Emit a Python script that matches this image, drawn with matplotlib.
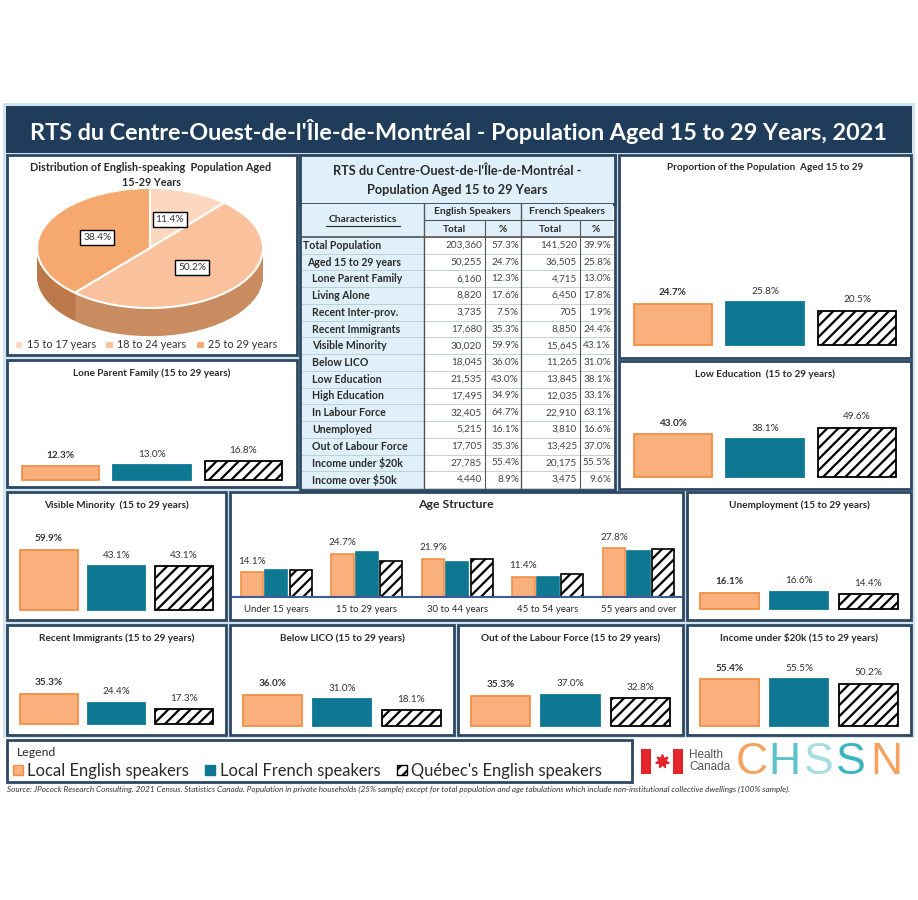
import numpy as np
import matplotlib.pyplot as plt
from matplotlib.patches import Rectangle

plt.rcParams['font.family'] = ['Lato', 'DejaVu Sans']
plt.rcParams['hatch.linewidth'] = 1.6

# ---- data ----
series = ['Local English speakers', 'Local French speakers', "Québec's English speakers"]

pie_labels = ['15 to 17 years', '18 to 24 years', '25 to 29 years']
pie_values = [11.4, 50.2, 38.4]

proportion = [24.7, 25.8, 20.5]
lone_parent = [12.3, 13.0, 16.8]
low_education = [43.0, 38.1, 49.6]
visible_minority = [59.9, 43.1, 43.1]
unemployment = [16.1, 16.6, 14.4]
recent_immigrants = [35.3, 24.4, 17.3]
below_lico = [36.0, 31.0, 18.1]
out_of_labour = [35.3, 37.0, 32.8]
income_under_20k = [55.4, 55.5, 50.2]

age_groups = ['Under 15 years', '15 to 29 years', '30 to 44 years', '45 to 54 years', '55 years and over']
age_english = [14.1, 24.7, 21.9, 11.4, 27.8]
age_french = [15.4, 25.8, 20.1, 11.6, 26.2]
age_quebec = [15.5, 20.5, 21.9, 13.3, 27.6]

table_rows = ['Total Population', 'Aged 15 to 29 years', 'Lone Parent Family', 'Living Alone',
              'Recent Inter-prov.', 'Recent Immigrants', 'Visible Minority', 'Below LICO',
              'Low Education', 'High Education', 'In Labour Force', 'Unemployed',
              'Out of Labour Force', 'Income under $20k', 'Income over $50k']
eng_total = [203360, 50255, 6160, 8820, 3735, 17680, 30020, 18045, 21535, 17495, 32405, 5215, 17705, 27785, 4440]
eng_pct = [57.3, 24.7, 12.3, 17.6, 7.5, 35.3, 59.9, 36.0, 43.0, 34.9, 64.7, 16.1, 35.3, 55.4, 8.9]
fr_total = [141520, 36505, 4715, 6450, 705, 8850, 15645, 11265, 13845, 12035, 22910, 3810, 13425, 20175, 3475]
fr_pct = [39.9, 25.8, 13.0, 17.8, 1.9, 24.4, 43.1, 31.0, 38.1, 33.1, 63.1, 16.6, 37.0, 55.5, 9.6]

# ---- style ----
ORANGE = '#f9b07d'
ORANGE_EDGE = '#ef8f45'
TEAL = '#0e7893'
NAVY = '#1f3d5a'
BORDER = '#2c4862'
LIGHT = '#d4e4ee'
CELL = '#e0f0fa'
TXT = '#2a2a2a'

W, H = 918, 900
fig = plt.figure(figsize=(9.18, 9.0), dpi=100)
bg = fig.add_axes([0, 0, 1, 1])
bg.set_xlim(0, W)
bg.set_ylim(H, 0)
bg.axis('off')


def px_axes(x0, y0, x1, y1):
    ax = fig.add_axes([x0 / W, 1 - y1 / H, (x1 - x0) / W, (y1 - y0) / H])
    ax.set_facecolor('none')
    return ax


def panel(x0, y0, x1, y1, face='white'):
    bg.add_patch(Rectangle((x0, y0), x1 - x0, y1 - y0, facecolor=face,
                           edgecolor=BORDER, linewidth=2))


def bar_panel(box, title, values, base_y, scale):
    x0, y0, x1, y1 = box
    panel(*box)
    bg.text((x0 + x1) / 2, y0 + 13, title, ha='center', va='center',
            fontsize=7.2, fontweight='bold', color=TXT)
    top = y0 + 24
    ax = px_axes(x0 + 8, top, x1 - 8, base_y)
    ax.set_xlim(-0.5, 2.5)
    ax.set_ylim(0, (base_y - top) / scale)
    ax.axis('off')
    bars = ax.bar(range(3), values, width=0.85, color=[ORANGE, TEAL, 'white'],
                  edgecolor=[ORANGE_EDGE, TEAL, 'black'], linewidth=1.3, clip_on=False)
    bars[2].set_hatch('///')
    for i, (b, v) in enumerate(zip(bars, values)):
        ax.annotate(f'{v:.1f}%', (b.get_x() + b.get_width() / 2, v), xytext=(0, 8),
                    textcoords='offset points', ha='center', va='center', fontsize=7.2,
                    fontweight='bold' if i == 0 else 'normal', color='#333333')


# background frame + banner
bg.add_patch(Rectangle((3, 103), 912, 635, facecolor=LIGHT, edgecolor='none'))
bg.add_patch(Rectangle((6, 106), 906, 47, facecolor=NAVY, edgecolor='none'))
bg.text(459, 131, "RTS du Centre-Ouest-de-l'Île-de-Montréal - Population Aged 15 to 29 Years, 2021",
        ha='center', va='center', fontsize=16.8, fontweight='bold', color='white')

# ---- pie panel ----
panel(7, 155, 297, 355)
bg.text(151, 175, 'Distribution of English-speaking  Population Aged\n15-29 Years',
        ha='center', va='center', fontsize=7.8, fontweight='bold', color=TXT, linespacing=1.45)
pie_colors = ['#fcd8c0', '#f9c29d', '#f6a96f']
side_colors = ['#dcae8e', '#c98b60', '#bd7849']
pax = px_axes(30, 180, 270, 340)
for d in np.linspace(0.47, 0.02, 24):
    pax.pie(pie_values, colors=side_colors, startangle=90, counterclock=False,
            center=(0, -d), wedgeprops=dict(linewidth=0))
wedges, _, autotexts = pax.pie(pie_values, colors=pie_colors, startangle=90, counterclock=False,
                               autopct='%1.1f%%', pctdistance=0.5,
                               wedgeprops=dict(edgecolor='white', linewidth=1.5),
                               textprops=dict(fontsize=7.3, color='#333333'))
for t in autotexts:
    t.set_bbox(dict(facecolor='white', edgecolor='black', boxstyle='square,pad=0.3', linewidth=1))
pax.set_aspect('auto')
pax.set_xlim(-1.062, 1.062)
pax.set_ylim(-1.533, 1.133)
pax.legend(wedges, pie_labels, loc='center', bbox_to_anchor=(146, 345), bbox_transform=bg.transData,
           ncol=3, frameon=False, fontsize=7.8, handlelength=0.8, handleheight=0.8,
           handletextpad=0.3, columnspacing=0.9, borderpad=0, labelcolor='#333333')

# ---- table ----
panel(300, 155, 615, 490)
bg.add_patch(Rectangle((300, 155), 315, 49, facecolor=CELL, edgecolor=BORDER, linewidth=2))
bg.text(457, 171, "RTS du Centre-Ouest-de-l'Île-de-Montréal -", ha='center', va='center',
        fontsize=9.2, fontweight='bold', color=TXT)
bg.text(457, 190, 'Population Aged 15 to 29 Years', ha='center', va='center',
        fontsize=9.2, fontweight='bold', color=TXT)
top_h, row_h = 237, (488 - 237) / len(table_rows)
bg.add_patch(Rectangle((302, 204), 311, 33, facecolor=CELL, edgecolor='none'))
bg.add_patch(Rectangle((302, 237), 122, 251, facecolor=CELL, edgecolor='none'))
bg.text(363, 219, 'Characteristics', ha='center', va='center', fontsize=7.4, fontweight='bold', color=TXT)
bg.plot([326, 400], [226, 226], color=TXT, lw=0.8)
bg.text(472, 212, 'English Speakers', ha='center', va='center', fontsize=7.4, fontweight='bold', color=TXT)
bg.text(567, 212, 'French Speakers', ha='center', va='center', fontsize=7.4, fontweight='bold', color=TXT)
for cx, lab in zip([454, 503, 550, 596], ['Total', '%', 'Total', '%']):
    bg.text(cx, 229, lab, ha='center', va='center', fontsize=7.2, fontweight='bold', color=TXT)
for i in range(len(table_rows) + 1):
    y = top_h + i * row_h
    bg.plot([302, 613], [y, y], color='#b9c9d6', lw=0.6)
bg.plot([302, 613], [top_h, top_h], color='#555555', lw=1.2)
bg.plot([424, 613], [220, 220], color='#555555', lw=0.8)
bg.plot([424, 424], [204, 488], color='#555555', lw=1.0)
bg.plot([521, 521], [204, 488], color='#555555', lw=1.0)
bg.plot([485, 485], [220, 488], color='#555555', lw=0.8)
bg.plot([580, 580], [220, 488], color='#555555', lw=0.8)
for i, lab in enumerate(table_rows):
    yc = top_h + (i + 0.5) * row_h
    indent = 0 if i == 0 else (4 if i == 1 else 9)
    bg.text(303 + indent, yc, lab, ha='left', va='center', fontsize=7.6, fontweight='bold', color=TXT)
    bg.text(482, yc, f'{eng_total[i]:,}', ha='right', va='center', fontsize=7.2, color='#444444')
    bg.text(519, yc, f'{eng_pct[i]:.1f}%', ha='right', va='center', fontsize=7.2, color='#444444')
    bg.text(577, yc, f'{fr_total[i]:,}', ha='right', va='center', fontsize=7.2, color='#444444')
    bg.text(611, yc, f'{fr_pct[i]:.1f}%', ha='right', va='center', fontsize=7.2, color='#444444')

# ---- small bar panels ----
bar_panel((619, 155, 911, 358), 'Proportion of the Population  Aged 15 to 29', proportion, 345, 1.66)
bar_panel((7, 360, 297, 487), 'Lone Parent Family (15 to 29 years)', lone_parent, 480, 1.12)
bar_panel((619, 361, 911, 489), 'Low Education  (15 to 29 years)', low_education, 477, 0.99)
bar_panel((7, 492, 226, 620), 'Visible Minority  (15 to 29 years)', visible_minority, 610, 1.01)
bar_panel((687, 492, 911, 620), 'Unemployment (15 to 29 years)', unemployment, 609, 1.02)
bar_panel((7, 625, 226, 735), 'Recent Immigrants (15 to 29 years)', recent_immigrants, 724, 0.86)
bar_panel((230, 625, 454, 735), 'Below LICO (15 to 29 years)', below_lico, 726, 0.86)
bar_panel((458, 625, 683, 735), 'Out of the Labour Force (15 to 29 years)', out_of_labour, 726, 0.85)
bar_panel((687, 625, 911, 735), 'Income under $20k (15 to 29 years)', income_under_20k, 726, 0.84)

# ---- age structure ----
panel(230, 492, 683, 620)
bg.text(456, 504, 'Age Structure', ha='center', va='center', fontsize=8.8, fontweight='bold', color=TXT)
aax = px_axes(232, 515, 681, 597)
aax.set_xlim(-0.49, 4.47)
aax.set_ylim(0, 82 / 1.755)
x = np.arange(len(age_groups))
w, step = 0.245, 0.27
b1 = aax.bar(x - step, age_english, w, color=ORANGE, edgecolor=ORANGE_EDGE, linewidth=1.2, clip_on=False)
aax.bar(x, age_french, w, color=TEAL, edgecolor=TEAL, linewidth=1.2, clip_on=False)
aax.bar(x + step, age_quebec, w, color='white', edgecolor='black', hatch='///', linewidth=1.2, clip_on=False)
for b, v in zip(b1, age_english):
    aax.annotate(f'{v:.1f}%', (b.get_x() + b.get_width() / 2, v), xytext=(0, 8),
                 textcoords='offset points', ha='center', va='center', fontsize=7.2, color='#333333')
for s in ['top', 'left', 'right']:
    aax.spines[s].set_visible(False)
aax.spines['bottom'].set_color('#3d5c99')
aax.spines['bottom'].set_linewidth(1.5)
aax.set_xticks(x, age_groups)
aax.set_yticks([])
aax.tick_params(length=0, labelsize=6.9, pad=6, labelcolor=TXT)

# ---- legend ----
panel(7, 740, 632, 782)
bg.text(17, 753, 'Legend', ha='left', va='center', fontsize=8.8, color=TXT)
handles = [Rectangle((0, 0), 1, 1, facecolor=ORANGE, edgecolor=ORANGE_EDGE),
           Rectangle((0, 0), 1, 1, facecolor=TEAL, edgecolor=TEAL),
           Rectangle((0, 0), 1, 1, facecolor='white', edgecolor='black', hatch='///')]
bg.legend(handles, series, loc='center left', bbox_to_anchor=(13, 771), bbox_transform=bg.transData,
          ncol=3, frameon=False, fontsize=11.9, handlelength=0.6, handleheight=0.6,
          handletextpad=0.25, columnspacing=1.0, borderpad=0, borderaxespad=0, labelcolor=TXT)

# ---- logos ----
bg.add_patch(Rectangle((641, 749), 10, 25, facecolor='#e2242c', edgecolor='none'))
bg.add_patch(Rectangle((673, 749), 10, 25, facecolor='#e2242c', edgecolor='none'))
bg.plot(662, 761, marker=(7, 1, 0), markersize=10, color='#e2242c')
bg.text(689, 761, 'Health\nCanada', ha='left', va='center', fontsize=8.5, color='#555555',
        family='Liberation Sans', linespacing=0.95)
for ch, cx, col in zip('CHSSN', [736, 768, 804, 836, 870], ['#f5a25f', '#5cc3cc', '#a6dde0', '#3cb4bf', '#f5a25f']):
    bg.text(cx, 762, ch, ha='left', va='center', fontsize=32, color=col, family='Liberation Sans')

bg.text(7, 789, 'Source: JPocock Research Consulting. 2021 Census. Statistics Canada. Population in private households '
        '(25% sample) except for total population and age tabulations which include non-institutional collective '
        'dwellings (100% sample).', ha='left', va='center', fontsize=5.9, style='italic', color='#333333')

fig.savefig('out.png', dpi=100)
